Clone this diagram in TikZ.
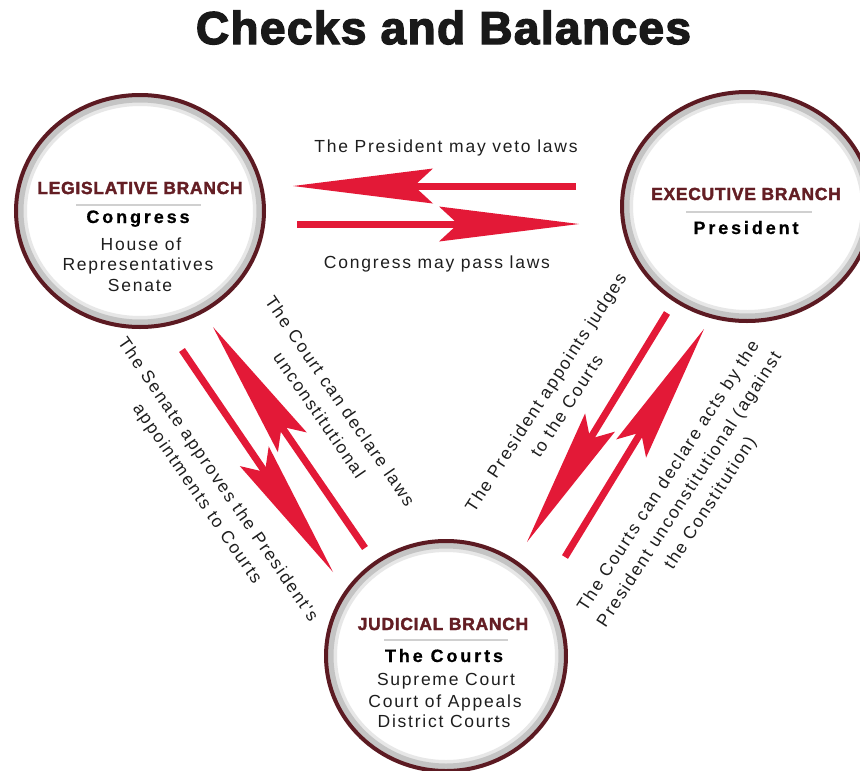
\documentclass[tikz,border=0pt]{standalone}
\usepackage{fontspec}
\usetikzlibrary{calc}
\setmainfont{Liberation Sans}
\newfontfamily\regfont[LetterSpace=10]{Liberation Sans}
\newfontfamily\boldfont[LetterSpace=16,FakeBold=0.6]{Liberation Sans}
\newfontfamily\headfont[LetterSpace=4,FakeBold=2]{Liberation Sans}
\newfontfamily\titlefont[LetterSpace=3,FakeBold=3]{Liberation Sans}
\definecolor{arrowred}{RGB}{227,25,55}
\definecolor{ringmaroon}{RGB}{92,26,34}
\definecolor{headmaroon}{RGB}{100,30,36}
\definecolor{ringgrey}{RGB}{196,196,196}
\definecolor{txtgrey}{RGB}{30,30,30}
\tikzset{
  lbl/.style={font=\regfont\fontsize{17.5}{25}\selectfont, text=txtgrey, inner sep=0pt, align=center},
  bodytxt/.style={font=\regfont\fontsize{17.5}{21}\selectfont, text=txtgrey, inner sep=0pt, anchor=base},
  boldtxt/.style={font=\boldfont\bfseries\fontsize{18}{21}\selectfont, text=black, inner sep=0pt, anchor=base},
  headtxt/.style={font=\headfont\bfseries\fontsize{17.5}{21}\selectfont, text=headmaroon, inner sep=0pt, anchor=base},
  sepline/.style={draw=ringgrey!80, line width=1.2pt},
  shaft/.style={draw=arrowred, line width=7pt},
  headfill/.style={fill=arrowred}
}
\newcommand\branchring[3]{%
  \fill[white] (#1) ellipse [x radius=#2pt, y radius=#3pt];
  \draw[ringgrey!40, line width=4pt] (#1) ellipse [x radius=#2pt-11pt, y radius=#3pt-11pt];
  \draw[ringgrey, line width=6pt] (#1) ellipse [x radius=#2pt-6.5pt, y radius=#3pt-6.5pt];
  \draw[ringmaroon, line width=4pt] (#1) ellipse [x radius=#2pt-2pt, y radius=#3pt-2pt];
}
\newcommand\chkarrow[2]{%
  \draw[shaft] (#1) -- ($(#2)!120pt!(#1)$);
  \fill[headfill] (#2) -- ($(#2)!140pt!(#1)!17.5pt!90:(#2)$) -- ($(#2)!121pt!(#1)$) -- ($(#2)!140pt!(#1)!17.5pt!-90:(#2)$) -- cycle;
}
\begin{document}
\begin{tikzpicture}[x=1pt,y=-1pt]
\useasboundingbox (0,0) rectangle (860,771);
\clip (0,0) rectangle (860,771);
\fill[white] (0,0) rectangle (860,771);

% title
\node[font=\titlefont\bfseries\fontsize{46}{50}\selectfont, text=black!90, inner sep=0pt, anchor=base] (title) at (443.5,44) {Checks and Balances};

% branch circles
\coordinate (legc) at (140,211);
\coordinate (exec) at (747,206.5);
\coordinate (judc) at (446,656);
\branchring{legc}{126}{118}
\branchring{exec}{127}{116.5}
\branchring{judc}{122}{117}

% legislative text
\node[headtxt] (leghead) at (140,194) {LEGISLATIVE BRANCH};
\draw[sepline] (76,205) -- (201,205);
\node[boldtxt] (congress) at (138,223) {Congress};
\node[bodytxt] (house) at (141,250) {House of};
\node[bodytxt] (reps) at (138,270) {Representatives};
\node[bodytxt] (senate) at (140,291) {Senate};

% executive text
\node[headtxt] (exechead) at (746,200) {EXECUTIVE BRANCH};
\draw[sepline] (686,212) -- (812,212);
\node[boldtxt] (president) at (746,234) {President};

% judicial text
\node[headtxt] (judhead) at (443,630) {JUDICIAL BRANCH};
\draw[sepline] (384,640) -- (508,640);
\node[boldtxt] (courts) at (444,662) {The Courts};
\node[bodytxt] (supreme) at (446,685) {Supreme Court};
\node[bodytxt] (appeals) at (445,707) {Court of Appeals};
\node[bodytxt] (district) at (444,727) {District Courts};

% arrow end points
\coordinate (vetoS) at (576,186);
\coordinate (vetoT) at (293,186);
\coordinate (passS) at (297,224);
\coordinate (passT) at (579,224);
\coordinate (senS) at (182,350);
\coordinate (senT) at (333,572);
\coordinate (crtS) at (365,548);
\coordinate (crtT) at (213,327);
\coordinate (appS) at (667,313);
\coordinate (appT) at (527,542);
\coordinate (actS) at (565,557);
\coordinate (actT) at (704,329);

\chkarrow{vetoS}{vetoT}
\chkarrow{passS}{passT}
\chkarrow{senS}{senT}
\chkarrow{crtS}{crtT}
\chkarrow{appS}{appT}
\chkarrow{actS}{actT}

% labels
\node[bodytxt] (vetolbl) at (446,152) {The President may veto laws};
\node[bodytxt] (passlbl) at (437,268) {Congress may pass laws};
\node[lbl, rotate=-55.5] (senlbl) at (207,487) {The Senate approves the President's\\appointments to Courts};
\node[lbl, rotate=-55.5] (crtlbl) at (330,408) {The Court can declare laws\\unconstitutional};
\node[lbl, rotate=57] (applbl) at (556,399) {The President appoints judges\\to the Courts};
\node[lbl, rotate=57] (actlbl) at (690,490) {The Courts can declare acts by the\\President unconstitutional (against\\the Constitution)};
\end{tikzpicture}
\end{document}
